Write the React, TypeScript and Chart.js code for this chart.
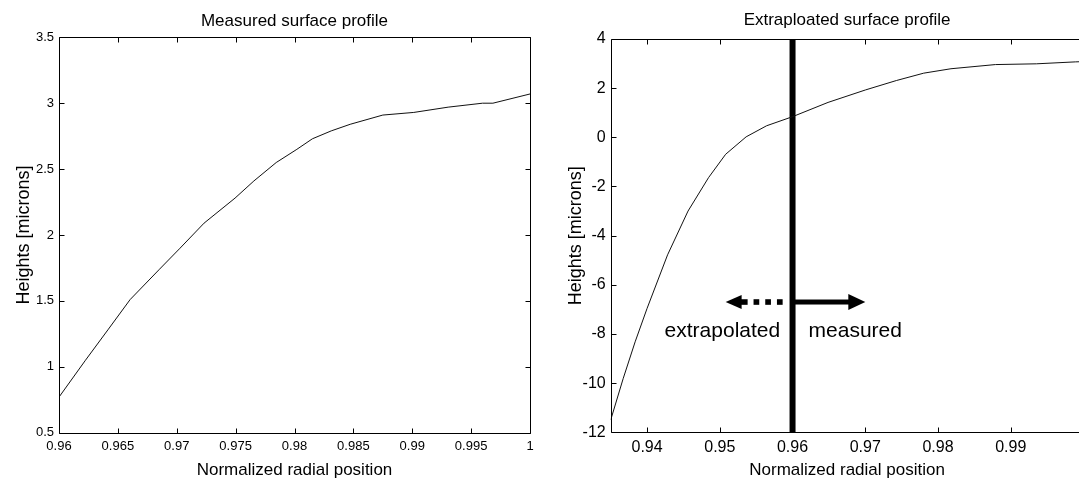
import React, { useEffect, useRef } from 'react';
import { Chart, registerables } from 'chart.js';

Chart.register(...registerables);

const FONT = '"Liberation Sans", Arial, Helvetica, sans-serif';

// ---------- Left chart: measured surface profile ----------
const leftTitle = 'Measured surface profile';
const leftX = [0.96, 0.96225, 0.96415, 0.96604, 0.96853, 0.97028, 0.97232, 0.97495, 0.97655, 0.97845, 0.9802, 0.98152, 0.98312, 0.98473, 0.9875, 0.99013, 0.99305, 0.99597, 0.99685, 1.0];
const leftY = [0.77, 1.05, 1.28, 1.51, 1.74, 1.9, 2.09, 2.28, 2.41, 2.55, 2.65, 2.73, 2.79, 2.84, 2.91, 2.93, 2.97, 3.0, 3.0, 3.07];
const leftXTicks = [0.96, 0.965, 0.97, 0.975, 0.98, 0.985, 0.99, 0.995, 1.0];
const leftXTickLabels = ['0.96', '0.965', '0.97', '0.975', '0.98', '0.985', '0.99', '0.995', '1'];
const leftYTicks = [0.5, 1, 1.5, 2, 2.5, 3, 3.5];
const leftYTickLabels = ['0.5', '1', '1.5', '2', '2.5', '3', '3.5'];

// ---------- Right chart: extrapolated surface profile ----------
const rightTitle = 'Extraploated surface profile';
const rightX = [0.935, 0.93671, 0.93836, 0.94, 0.94282, 0.94563, 0.94845, 0.9508, 0.95362, 0.95643, 0.96, 0.96488, 0.97005, 0.97427, 0.97803, 0.98178, 0.98789, 0.99352, 0.99892, 1.0];
const rightY = [-11.5, -9.82, -8.32, -6.96, -4.78, -3.0, -1.64, -0.69, 0.02, 0.47, 0.84, 1.42, 1.93, 2.31, 2.61, 2.79, 2.96, 2.99, 3.07, 3.08];
const rightXTicks = [0.94, 0.95, 0.96, 0.97, 0.98, 0.99];
const rightXTickLabels = ['0.94', '0.95', '0.96', '0.97', '0.98', '0.99'];
const rightYTicks = [-12, -10, -8, -6, -4, -2, 0, 2, 4];
const rightYTickLabels = ['-12', '-10', '-8', '-6', '-4', '-2', '0', '2', '4'];

// boundary between extrapolated and measured data
const boundaryX = [0.96, 0.96];
const boundaryY = [-12, 4];
const arrowY = -6.7;
const arrowLeftTip = 0.9508;
const arrowRightTip = 0.97;
const annotationLabels = ['extrapolated', 'measured'];
const annotationLabelX = [0.9583, 0.9622];
const annotationLabelY = -7.87;

const xAxisTitle = 'Normalized radial position';
const yAxisTitle = 'Heights [microns]';

function labelFor(ticks: number[], labels: string[]) {
  return (v: any) => {
    const i = ticks.findIndex((t) => Math.abs(t - Number(v)) < 1e-9);
    return i >= 0 ? labels[i] : '';
  };
}

function makeTitlePlugin(text: string, y: number, size: number) {
  return {
    id: 'plotTitle',
    afterDraw(chart: any) {
      const { ctx, chartArea: a } = chart;
      ctx.save();
      ctx.fillStyle = '#000';
      ctx.font = `${size}px ${FONT}`;
      ctx.textAlign = 'center';
      ctx.textBaseline = 'middle';
      ctx.fillText(text, (a.left + a.right) / 2, y);
      ctx.restore();
    },
  };
}

const boxPlugin = {
  id: 'matlabBox',
  afterDatasetsDraw(chart: any) {
    const { ctx, chartArea: a, scales } = chart;
    const L = Math.round(a.left) + 0.5;
    const R = Math.round(a.right) + 0.5;
    const T = Math.round(a.top) + 0.5;
    const B = Math.round(a.bottom) + 0.5;
    const len = 5;
    ctx.save();
    ctx.strokeStyle = '#000';
    ctx.lineWidth = 1;
    ctx.beginPath();
    ctx.rect(L, T, R - L, B - T);
    scales.x.ticks.forEach((t: any) => {
      const px = Math.round(scales.x.getPixelForValue(t.value)) + 0.5;
      ctx.moveTo(px, B);
      ctx.lineTo(px, B - len);
      ctx.moveTo(px, T);
      ctx.lineTo(px, T + len);
    });
    scales.y.ticks.forEach((t: any) => {
      const py = Math.round(scales.y.getPixelForValue(t.value)) + 0.5;
      ctx.moveTo(L, py);
      ctx.lineTo(L + len, py);
      ctx.moveTo(R, py);
      ctx.lineTo(R - len, py);
    });
    ctx.stroke();
    ctx.restore();
  },
};

const arrowPlugin = {
  id: 'arrows',
  afterDatasetsDraw(chart: any) {
    const { ctx, scales } = chart;
    const xs = scales.x;
    const ys = scales.y;
    const yPix = ys.getPixelForValue(arrowY);
    const x0 = xs.getPixelForValue(boundaryX[0]);
    ctx.save();
    ctx.fillStyle = '#000';
    // right arrow (solid) -> measured
    const rt = xs.getPixelForValue(arrowRightTip);
    ctx.fillRect(x0, yPix - 2.5, rt - 16 - x0, 5);
    ctx.beginPath();
    ctx.moveTo(rt, yPix);
    ctx.lineTo(rt - 17, yPix - 8);
    ctx.lineTo(rt - 17, yPix + 8);
    ctx.closePath();
    ctx.fill();
    // left arrow (dotted) -> extrapolated
    const lt = xs.getPixelForValue(arrowLeftTip);
    ctx.beginPath();
    ctx.moveTo(lt, yPix);
    ctx.lineTo(lt + 16, yPix - 7);
    ctx.lineTo(lt + 16, yPix + 7);
    ctx.closePath();
    ctx.fill();
    ctx.fillRect(lt + 14, yPix - 2.8, 8, 5.6);
    for (let x = x0 - 15.6; x > lt + 24; x -= 11.7) {
      ctx.fillRect(x, yPix - 2.8, 5.7, 5.6);
    }
    // labels
    ctx.font = `21px ${FONT}`;
    ctx.textBaseline = 'middle';
    const ly = ys.getPixelForValue(annotationLabelY);
    ctx.textAlign = 'right';
    ctx.fillText(annotationLabels[0], xs.getPixelForValue(annotationLabelX[0]), ly);
    ctx.textAlign = 'left';
    ctx.fillText(annotationLabels[1], xs.getPixelForValue(annotationLabelX[1]), ly);
    ctx.restore();
  },
};

type Cfg = {
  xs: number[];
  ys: number[];
  xMin: number;
  xMax: number;
  yMin: number;
  yMax: number;
  xTicks: number[];
  xTickLabels: string[];
  yTicks: number[];
  yTickLabels: string[];
  tickSize: number;
  yAxisWidth: number;
  xAxisHeight: number;
  padTop: number;
  padRight: number;
  yTitlePad: number;
  xTitlePad: number;
  xTickPad: number;
  title: string;
  titleY: number;
  extra: boolean;
};

function buildChart(canvas: HTMLCanvasElement, c: Cfg) {
  const datasets: any[] = [
    {
      data: c.xs.map((x, i) => ({ x, y: c.ys[i] })),
      borderColor: '#111',
      borderWidth: 1,
      pointRadius: 0,
      tension: 0,
      fill: false,
    },
  ];
  if (c.extra) {
    datasets.push({
      data: boundaryX.map((x, i) => ({ x, y: boundaryY[i] })),
      borderColor: '#000',
      borderWidth: 6,
      pointRadius: 0,
      fill: false,
    });
  }
  const plugins: any[] = [boxPlugin, makeTitlePlugin(c.title, c.titleY, 17)];
  if (c.extra) plugins.push(arrowPlugin);
  return new Chart(canvas, {
    type: 'line',
    data: { datasets },
    plugins,
    options: {
      animation: false,
      responsive: false,
      devicePixelRatio: 1,
      layout: { padding: { top: c.padTop, right: c.padRight, left: 0, bottom: 0 } },
      plugins: {
        legend: { display: false },
        title: { display: false },
        tooltip: { enabled: false },
      },
      scales: {
        x: {
          type: 'linear',
          min: c.xMin,
          max: c.xMax,
          border: { display: false },
          grid: { display: false, drawTicks: false },
          afterBuildTicks: (s: any) => {
            s.ticks = c.xTicks.map((v) => ({ value: v }));
          },
          afterFit: (s: any) => {
            s.height = c.xAxisHeight;
          },
          ticks: {
            autoSkip: false,
            maxRotation: 0,
            minRotation: 0,
            padding: c.xTickPad,
            color: '#000',
            font: { family: FONT, size: c.tickSize, lineHeight: 1.2 },
            callback: labelFor(c.xTicks, c.xTickLabels),
          },
          title: {
            display: true,
            text: xAxisTitle,
            color: '#000',
            font: { family: FONT, size: 17, lineHeight: 1.2 },
            padding: { top: 0, bottom: c.xTitlePad },
          },
        },
        y: {
          type: 'linear',
          min: c.yMin,
          max: c.yMax,
          border: { display: false },
          grid: { display: false, drawTicks: false },
          afterBuildTicks: (s: any) => {
            s.ticks = c.yTicks.map((v) => ({ value: v }));
          },
          afterFit: (s: any) => {
            s.width = c.yAxisWidth;
          },
          ticks: {
            autoSkip: false,
            padding: 5,
            color: '#000',
            font: { family: FONT, size: c.tickSize, lineHeight: 1.2 },
            callback: labelFor(c.yTicks, c.yTickLabels),
          },
          title: {
            display: true,
            text: yAxisTitle,
            color: '#000',
            font: { family: FONT, size: 18, lineHeight: 1.2 },
            padding: { top: c.yTitlePad, bottom: 0 },
          },
        },
      },
    } as any,
  });
}

export default function App() {
  const leftRef = useRef<HTMLCanvasElement>(null);
  const rightRef = useRef<HTMLCanvasElement>(null);

  useEffect(() => {
    const left = buildChart(leftRef.current!, {
      xs: leftX,
      ys: leftY,
      xMin: 0.96,
      xMax: 1.0,
      yMin: 0.5,
      yMax: 3.5,
      xTicks: leftXTicks,
      xTickLabels: leftXTickLabels,
      yTicks: leftYTicks,
      yTickLabels: leftYTickLabels,
      tickSize: 13,
      yAxisWidth: 59,
      xAxisHeight: 49.3,
      padTop: 37.3,
      padRight: 10,
      yTitlePad: 13.2,
      xTitlePad: 1.1,
      xTickPad: 6,
      title: leftTitle,
      titleY: 21.7,
      extra: false,
    });
    const right = buildChart(rightRef.current!, {
      xs: rightX,
      ys: rightY,
      xMin: 0.935,
      xMax: 1.0,
      yMin: -12,
      yMax: 4,
      xTicks: rightXTicks,
      xTickLabels: rightXTickLabels,
      yTicks: rightYTicks,
      yTickLabels: rightYTickLabels,
      tickSize: 16,
      yAxisWidth: 70.7,
      xAxisHeight: 49.7,
      padTop: 39,
      padRight: 16.5,
      yTitlePad: 25.5,
      xTitlePad: 1.8,
      xTickPad: 5.5,
      title: rightTitle,
      titleY: 20.8,
      extra: true,
    });
    return () => {
      left.destroy();
      right.destroy();
    };
  }, []);

  return (
    <div
      style={{
        position: 'fixed',
        left: 0,
        top: 0,
        width: 1079,
        height: 482,
        overflow: 'hidden',
        background: '#fff',
      }}
    >
      <canvas
        ref={leftRef}
        width={540}
        height={482}
        style={{ position: 'absolute', left: 0, top: 0, width: 540, height: 482 }}
      />
      <canvas
        ref={rightRef}
        width={560}
        height={482}
        style={{ position: 'absolute', left: 540, top: 0, width: 560, height: 482 }}
      />
    </div>
  );
}
